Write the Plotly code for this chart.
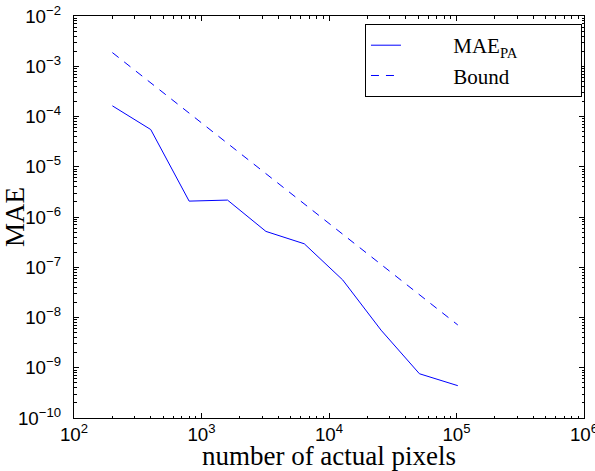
import plotly.graph_objects as go

n_pixels = [200, 400, 800, 1600, 3200, 6400, 12800, 25600, 51200, 102400]
mae_pa = [1.63e-4, 5.5e-5, 2.07e-6, 2.17e-6, 5.17e-7, 2.93e-7, 5.6e-8, 5.6e-9, 7.6e-10, 4.4e-10]
bound = [1.87e-3, 4.68e-4, 1.17e-4, 2.93e-5, 7.3e-6, 1.83e-6, 4.57e-7, 1.14e-7, 2.86e-8, 7.1e-9]

NB = "\u00a0"
serif = "Times New Roman, Liberation Serif, serif"
sans = "Arial, Liberation Sans, sans-serif"

fig = go.Figure()
fig.add_trace(go.Scatter(x=n_pixels, y=mae_pa, mode="lines",
                         name=NB * 9 + "MAE<sub>PA</sub>" + NB * 11,
                         line=dict(color="#0000ff", width=1)))
fig.add_trace(go.Scatter(x=n_pixels, y=bound, mode="lines",
                         name=NB * 9 + "Bound",
                         line=dict(color="#0000ff", width=1, dash="8px,7px")))

axis_common = dict(
    type="log", showgrid=False, zeroline=False,
    showline=True, linecolor="black", linewidth=1, mirror="ticks",
    ticks="inside", ticklen=5, tickcolor="black", tickwidth=1,
    dtick=1, exponentformat="power", ticklabeloverflow="allow",
    tickfont=dict(family=sans, size=15, color="black"),
    minor=dict(ticks="inside", ticklen=2.5, tickcolor="black", dtick="D1", showgrid=False),
)

fig.update_xaxes(range=[2, 6], **axis_common, ticklabelstandoff=0,
                 title=dict(text="number of actual pixels", standoff=1,
                            font=dict(family=serif, size=27, color="black")))
fig.update_yaxes(range=[-10, -2], **axis_common, ticklabelstandoff=9,
                 title=dict(text="MAE", standoff=3,
                            font=dict(family=serif, size=27, color="black")))

fig.update_layout(
    width=595, height=471,
    margin=dict(l=74, r=11, t=16, b=53, autoexpand=False),
    paper_bgcolor="white", plot_bgcolor="white",
    showlegend=True,
    legend=dict(x=0.996, y=0.98, xanchor="right", yanchor="top",
                bgcolor="white", bordercolor="black", borderwidth=1,
                font=dict(family=serif, size=21, color="black"),
                tracegroupgap=0),
)

fig.write_html("out.html", config={"displayModeBar": False},
               post_script="document.body.style.margin='0px';")
